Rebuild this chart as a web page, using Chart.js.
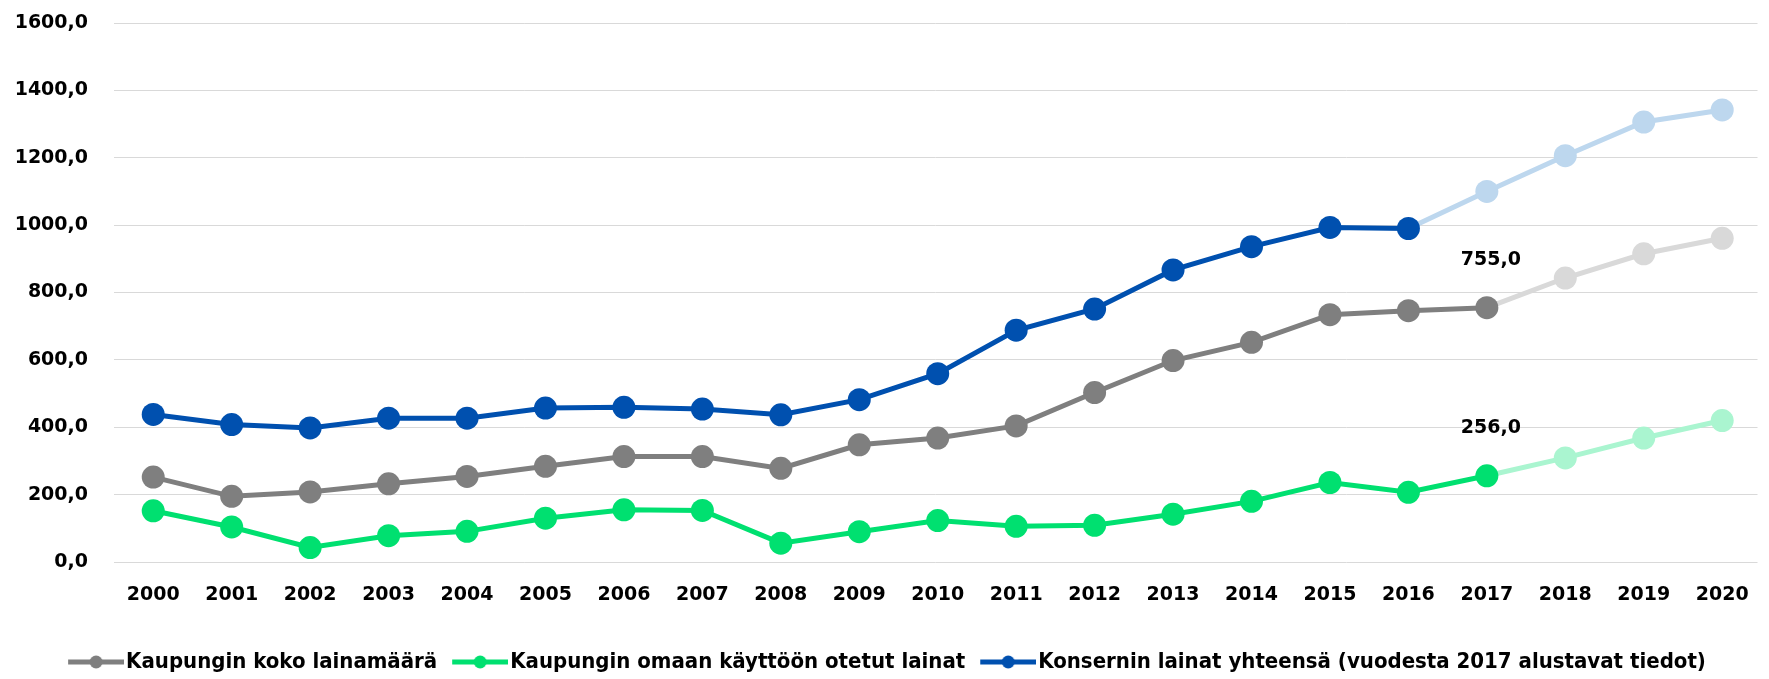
<!DOCTYPE html>
<html>
<head>
<meta charset="utf-8">
<script src="https://cdn.jsdelivr.net/npm/chart.js@4.4.1/dist/chart.umd.min.js"></script>
<style>
  html, body { margin: 0; padding: 0; background: #fff; overflow: hidden; }
  canvas { display: block; }
</style>
</head>
<body>
<canvas id="lainat" width="1769" height="679"></canvas>
<script>
// years on the x axis
const years = [2000, 2001, 2002, 2003, 2004, 2005, 2006, 2007, 2008, 2009, 2010,
               2011, 2012, 2013, 2014, 2015, 2016, 2017, 2018, 2019, 2020];

// values (milj. €)
const kokoLaina = [252, 195, 208, 232, 254, 284, 313, 313, 278, 348, 368,
                   404, 503, 598, 652, 734, 746, 755, 843, 915, 961];
const omaKaytto = [152, 104, 43, 78, 91, 130, 155, 153, 56, 90, 123,
                   106, 109, 142, 180, 236, 207, 256, 309, 368, 420];
const konserni = [438, 408, 398, 427, 427, 457, 459, 454, 437, 482, 559,
                  688, 751, 867, 936, 993, 990, 1100, 1206, 1306, 1342];

const seriesNames = [
  'Kaupungin koko lainamäärä',
  'Kaupungin omaan käyttöön otetut lainat',
  'Konsernin lainat yhteensä (vuodesta 2017 alustavat tiedot)'
];

const yTicks = [0, 200, 400, 600, 800, 1000, 1200, 1400, 1600];

// first year drawn in the pale colour, per series
const paleFrom = [2018, 2018, 2017];
// which year gets a value label, per series (null = none)
const labelYear = [2017, 2017, null];

const dark = ['#7f7f7f', '#00e070', '#0050af'];
const pale = ['#d9d9d9', '#aaf5d0', '#bdd7ee'];

const tickFont = { family: 'DejaVu Sans', size: 19, weight: 'bold' };

const fmt = v => v.toFixed(1).replace('.', ',');

function makeSeries(values, i) {
  const pts = years.map((y, k) => ({ x: y, y: values[k] }));
  return {
    label: seriesNames[i],
    data: pts,
    borderColor: dark[i],
    borderWidth: 5,
    pointRadius: 11.5,
    pointHoverRadius: 11.5,
    pointBorderWidth: 0,
    pointBackgroundColor: years.map(y => y >= paleFrom[i] ? pale[i] : dark[i]),
    segment: {
      borderColor: ctx => years[ctx.p1DataIndex] >= paleFrom[i] ? pale[i] : dark[i]
    },
    tension: 0,
    fill: false
  };
}

// legend marker: short line with a dot, like the spreadsheet legend
function legendMarker(color) {
  const c = document.createElement('canvas');
  c.width = 70; c.height = 24;
  const g = c.getContext('2d');
  g.strokeStyle = color;
  g.lineWidth = 5;
  g.beginPath();
  g.moveTo(14, 12);
  g.lineTo(70, 12);
  g.stroke();
  g.fillStyle = color;
  g.beginPath();
  g.arc(42, 12, 6.5, 0, Math.PI * 2);
  g.fill();
  return c;
}
const markers = dark.map(legendMarker);

const valueLabels = {
  id: 'valueLabels',
  afterDatasetsDraw(chart) {
    const ctx = chart.ctx;
    ctx.save();
    ctx.font = 'bold 19px "DejaVu Sans"';
    ctx.fillStyle = '#000';
    ctx.textAlign = 'center';
    ctx.textBaseline = 'middle';
    chart.data.datasets.forEach((ds, i) => {
      if (labelYear[i] == null) return;
      const k = years.indexOf(labelYear[i]);
      const pt = chart.getDatasetMeta(i).data[k];
      ctx.fillText(fmt(ds.data[k].y), pt.x + 4, pt.y - 48);
    });
    ctx.restore();
  }
};

const chart = new Chart(document.getElementById('lainat'), {
  type: 'line',
  data: {
    datasets: [
      makeSeries(kokoLaina, 0),
      makeSeries(omaKaytto, 1),
      makeSeries(konserni, 2)
    ]
  },
  options: {
    responsive: false,
    animation: false,
    layout: { padding: { top: 23, right: 0, bottom: -4, left: 0 } },
    scales: {
      x: {
        type: 'linear',
        min: 1999.5,
        max: 2020.45,
        grid: { display: false },
        border: { display: false },
        afterBuildTicks: s => { s.ticks = years.map(y => ({ value: y })); },
        afterFit: s => { s.height = 79; },
        ticks: {
          font: tickFont,
          color: '#000',
          padding: 14,
          maxRotation: 0,
          autoSkip: false,
          callback: v => String(v)
        }
      },
      y: {
        min: 0,
        max: 1600,
        afterBuildTicks: s => { s.ticks = yTicks.map(v => ({ value: v })); },
        afterFit: s => {
          s.width = 114;
          // tick padding is only meant horizontally here
          s.paddingTop = 11;
          s.paddingBottom = 11;
        },
        grid: { color: '#d9d9d9', lineWidth: 1, drawTicks: false },
        border: { display: false },
        ticks: {
          font: tickFont,
          color: '#000',
          padding: 26,
          callback: v => fmt(v)
        }
      }
    },
    plugins: {
      legend: {
        position: 'bottom',
        labels: {
          usePointStyle: true,
          pointStyleWidth: 52,
          padding: 10,
          color: '#000',
          font: { family: '"DejaVu Sans Condensed", "DejaVu Sans", sans-serif', size: 22, weight: 'bold' },
          generateLabels: ch => Chart.defaults.plugins.legend.labels.generateLabels(ch)
            .map((item, i) => Object.assign(item, { pointStyle: markers[i] }))
        }
      },
      tooltip: { enabled: false }
    }
  },
  plugins: [valueLabels]
});
</script>
</body>
</html>
